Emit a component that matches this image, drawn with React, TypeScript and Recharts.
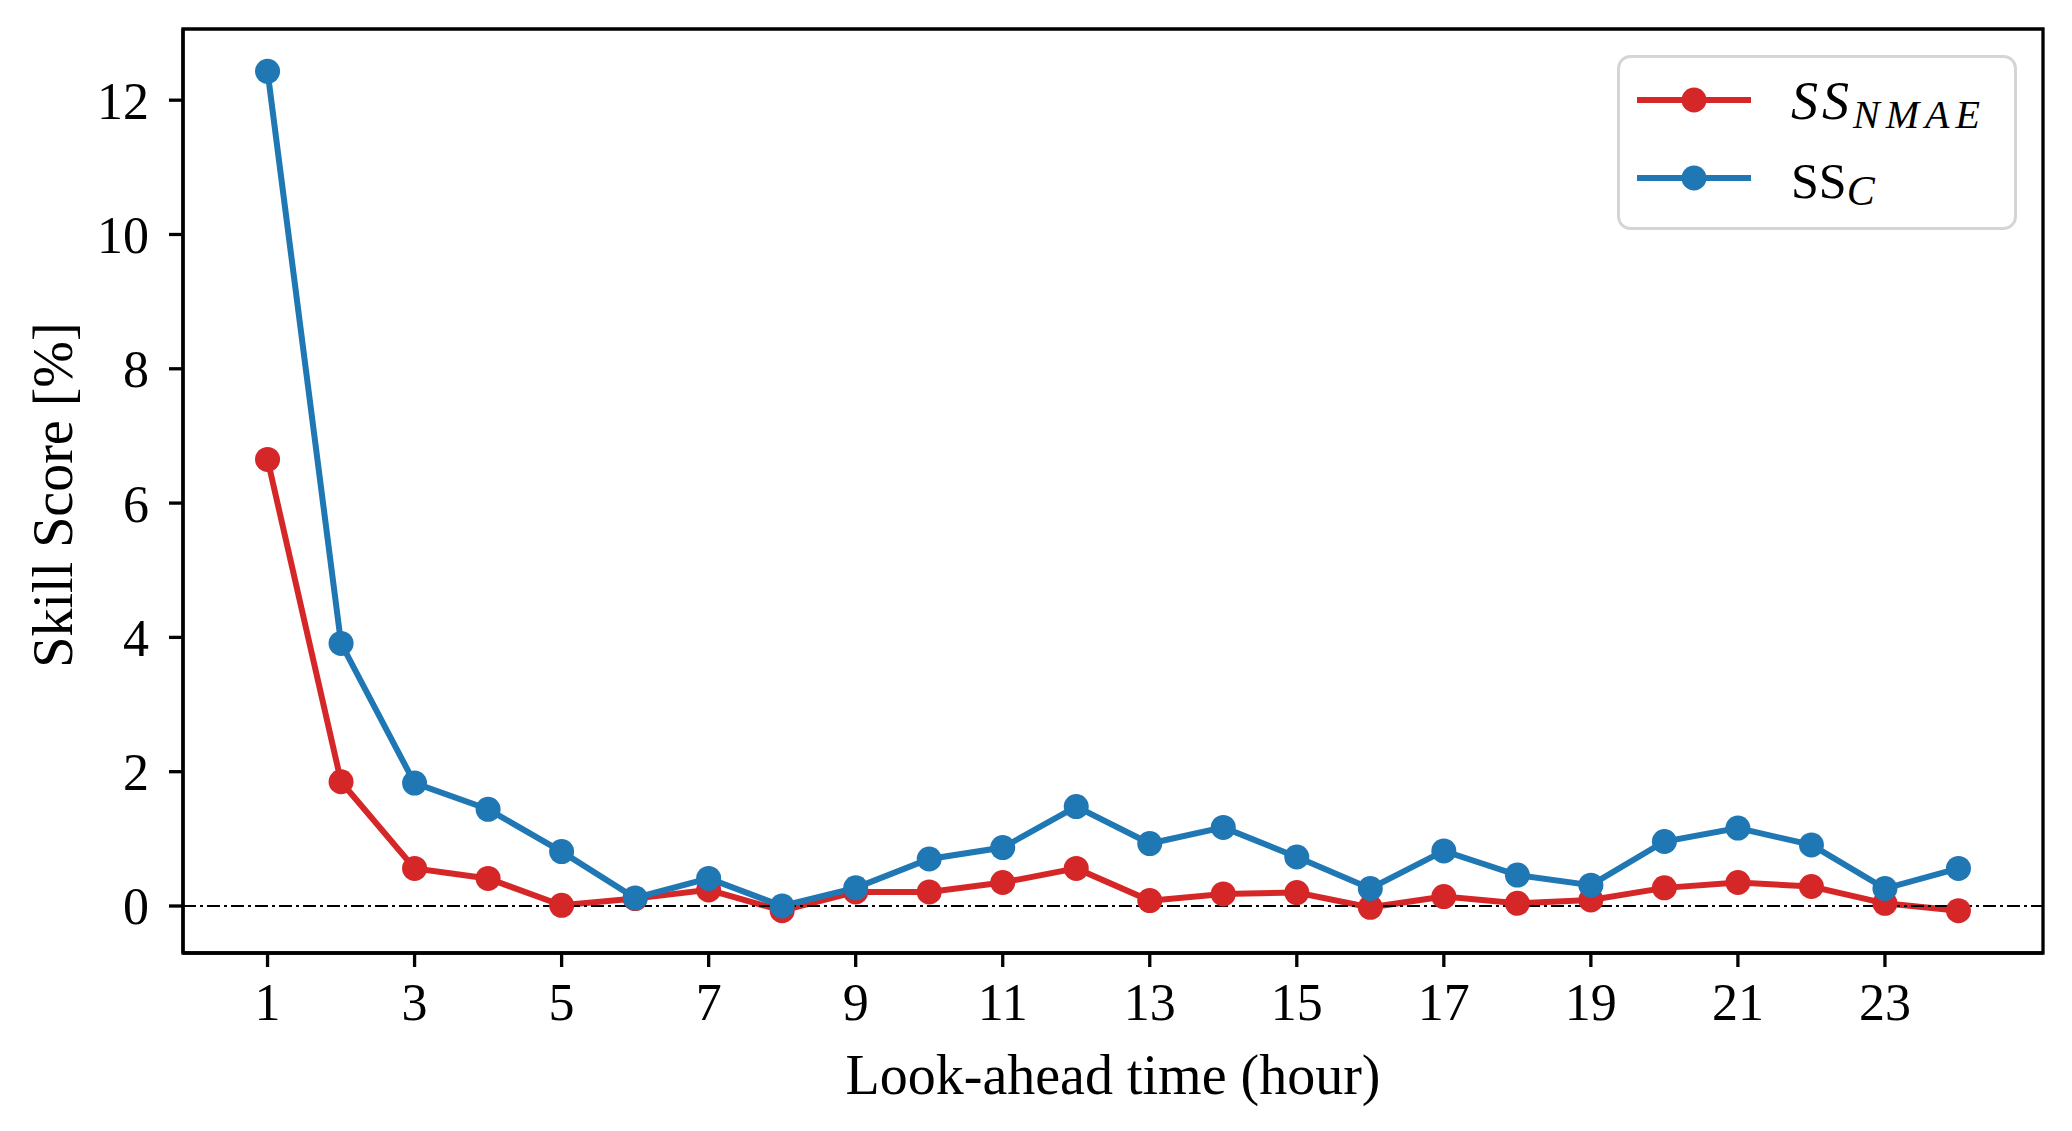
import React from "react";
import {
  LineChart,
  Line,
  XAxis,
  YAxis,
  ReferenceLine,
  ReferenceArea,
  Legend,
} from "recharts";

// look-ahead hours and the two skill scores (%)
const hours = [1, 2, 3, 4, 5, 6, 7, 8, 9, 10, 11, 12, 13, 14, 15, 16, 17, 18, 19, 20, 21, 22, 23, 24];
const ssNmae = [6.65, 1.85, 0.56, 0.41, 0.01, 0.11, 0.24, -0.07, 0.21, 0.21, 0.35, 0.56, 0.08, 0.18, 0.2, -0.02, 0.14, 0.04, 0.09, 0.27, 0.35, 0.29, 0.04, -0.07];
const ssC = [12.43, 3.91, 1.83, 1.44, 0.81, 0.12, 0.41, 0.0, 0.27, 0.7, 0.87, 1.48, 0.93, 1.17, 0.73, 0.26, 0.82, 0.46, 0.31, 0.96, 1.16, 0.91, 0.26, 0.56];

const xTicks = [1, 3, 5, 7, 9, 11, 13, 15, 17, 19, 21, 23];
const yTicks = [0, 2, 4, 6, 8, 10, 12];

// legend order as in the figure
const seriesOrder = ["SS_NMAE", "SS_C"];

const X_DOMAIN: [number, number] = [-0.15, 25.15];
const Y_DOMAIN: [number, number] = [-0.7, 13.06];

const RED = "#d62728";
const BLUE = "#1f77b4";
const FONT = "'Liberation Serif', 'DejaVu Serif', serif";

const data = hours.map((h, i) => ({ hour: h, nmae: ssNmae[i], c: ssC[i] }));

function XTitle({ viewBox }: any) {
  const vb = viewBox ?? { x: 183, y: 953, width: 1860 };
  return (
    <text
      x={vb.x + vb.width / 2}
      y={vb.y + 141}
      textAnchor="middle"
      fontSize={56}
      fontFamily={FONT}
      fill="#000"
    >
      Look-ahead time (hour)
    </text>
  );
}

function YTitle({ viewBox }: any) {
  const vb = viewBox ?? { x: 33, y: 29, height: 924 };
  const cx = vb.x + 39;
  const cy = vb.y + vb.height / 2 + 4;
  return (
    <text
      x={cx}
      y={cy}
      transform={`rotate(-90, ${cx}, ${cy})`}
      textAnchor="middle"
      fontSize={56}
      fontFamily={FONT}
      fill="#000"
    >
      Skill Score [%]
    </text>
  );
}

// matplotlib-style boxed legend with math-ish labels
function LegendBox({ payload }: any) {
  const items = [...(payload ?? [])].sort(
    (a: any, b: any) => seriesOrder.indexOf(a.value) - seriesOrder.indexOf(b.value)
  );
  return (
    <svg width={400} height={176} style={{ display: "block" }}>
      <rect
        x={1.5}
        y={1.5}
        width={397}
        height={172}
        rx={12}
        fill="#fff"
        fillOpacity={0.8}
        stroke="#d5d5d5"
        strokeWidth={3}
      />
      {items.map((p: any, i: number) => {
        const cy = 45 + i * 78;
        return (
          <g key={p.value}>
            <line x1={20} x2={134} y1={cy} y2={cy} stroke={p.color} strokeWidth={6} />
            <circle cx={77} cy={cy} r={12.5} fill={p.color} />
            {p.value === "SS_NMAE" ? (
              <text x={174} y={cy + 19} fontFamily={FONT} fill="#000">
                <tspan fontSize={54} fontStyle="italic" letterSpacing={4}>
                  SS
                </tspan>
                <tspan fontSize={40} fontStyle="italic" dy={9} letterSpacing={6}>
                  NMAE
                </tspan>
              </text>
            ) : (
              <text x={174} y={cy + 20} fontFamily={FONT} fill="#000">
                <tspan fontSize={50}>SS</tspan>
                <tspan fontSize={42} fontStyle="italic" dy={7}>
                  C
                </tspan>
              </text>
            )}
          </g>
        );
      })}
    </svg>
  );
}

export default function App() {
  const axisStroke = { stroke: "#000", strokeWidth: 3.3 };
  const tickStyle = { fill: "#000", fontSize: 52, fontFamily: FONT };

  return (
    <div
      style={{
        position: "absolute",
        left: 0,
        top: 0,
        width: 2072,
        height: 1131,
        background: "#fff",
        fontFamily: FONT,
      }}
    >
      <LineChart
        width={2072}
        height={1131}
        data={data}
        margin={{ top: 29, right: 29, left: 33, bottom: 18 }}
      >
        <XAxis
          dataKey="hour"
          type="number"
          domain={X_DOMAIN}
          ticks={xTicks}
          interval={0}
          allowDataOverflow
          height={160}
          tickSize={14}
          tickMargin={16}
          axisLine={axisStroke}
          tickLine={axisStroke}
          tick={tickStyle}
          label={{ content: XTitle }}
        />
        <YAxis
          type="number"
          domain={Y_DOMAIN}
          ticks={yTicks}
          interval={0}
          allowDataOverflow
          width={150}
          tickSize={14}
          tickMargin={20}
          axisLine={axisStroke}
          tickLine={axisStroke}
          tick={tickStyle}
          label={{ content: YTitle }}
        />
        <ReferenceArea
          x1={X_DOMAIN[0]}
          x2={X_DOMAIN[1]}
          y1={Y_DOMAIN[0]}
          y2={Y_DOMAIN[1]}
          fill="none"
          fillOpacity={0}
          stroke="#000"
          strokeWidth={3.3}
        />
        <Line
          type="linear"
          dataKey="nmae"
          name="SS_NMAE"
          stroke={RED}
          strokeWidth={6}
          dot={{ r: 12.5, fill: RED, stroke: RED, strokeWidth: 0 }}
          activeDot={false}
          isAnimationActive={false}
        />
        <Line
          type="linear"
          dataKey="c"
          name="SS_C"
          stroke={BLUE}
          strokeWidth={6}
          dot={{ r: 12.5, fill: BLUE, stroke: BLUE, strokeWidth: 0 }}
          activeDot={false}
          isAnimationActive={false}
        />
        <ReferenceLine
          y={0}
          stroke="#000"
          strokeWidth={2}
          strokeDasharray="13 4 3 4"
        />
        <Legend
          layout="vertical"
          align="center"
          verticalAlign="middle"
          content={<LegendBox />}
          wrapperStyle={{ left: 1617, top: 55, width: 400, height: 176 }}
        />
      </LineChart>
    </div>
  );
}
